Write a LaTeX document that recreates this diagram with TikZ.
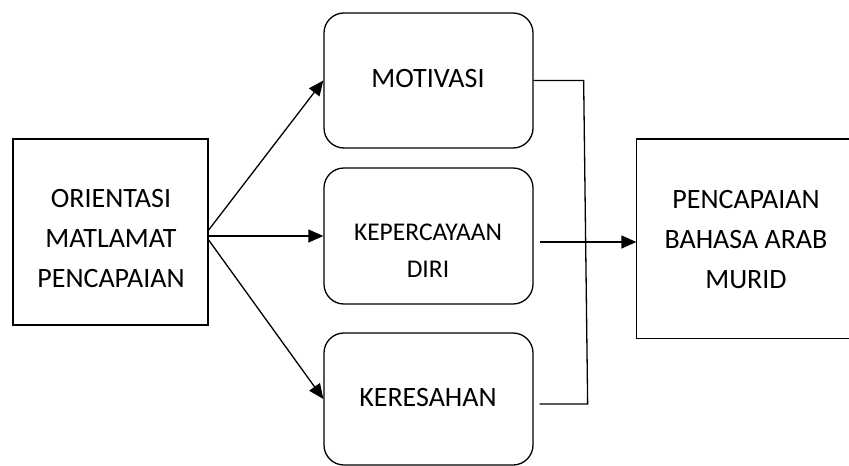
\documentclass[tikz,border=0pt]{standalone}
\usepackage{fontspec}
\setmainfont{Carlito}
\usetikzlibrary{arrows.meta}
\begin{document}
\begin{tikzpicture}[x=1pt,y=-1pt,line width=1.3pt,
  kotak/.style={draw,rectangle,inner sep=0pt},
  bulat/.style={draw,rectangle,rounded corners=20pt,minimum width=209pt,inner sep=0pt},
  teks/.style={align=center,inner sep=0pt,font=\fontsize{28}{40}\selectfont},
  panah/.style={-{Triangle[length=15pt,width=13pt]}}]
\useasboundingbox (0,0) rectangle (849,466);
% Boxes
\node[kotak,minimum width=195pt,minimum height=186pt] (orientasi) at (110.5,232) {};
\node[bulat,minimum height=135pt] (motivasi) at (428.5,80.5) {};
\node[bulat,minimum height=136pt] (kepercayaan) at (428.5,236) {};
\node[bulat,minimum height=132pt] (keresahan) at (428.5,399) {};
\node[rectangle,inner sep=0pt,minimum width=224pt,minimum height=198pt] (pencapaian) at (749,238.5) {};
\path[draw] (pencapaian.north east) -- (pencapaian.north west) -- (pencapaian.south west)
  -- (pencapaian.south east);
% Texts
\node[teks] (orientasi-t) at (111,238.5) {ORIENTASI\\MATLAMAT\\PENCAPAIAN};
\node[teks] (motivasi-t) at (428,79) {MOTIVASI};
\node[teks,font=\fontsize{25.5}{37}\selectfont] (kepercayaan-t) at (428,250.5) {KEPERCAYAAN\\DIRI};
\node[teks] (keresahan-t) at (428,397.5) {KERESAHAN};
\node[teks] (pencapaian-t) at (746,239.5) {PENCAPAIAN\\BAHASA ARAB\\MURID};
% Arrows
\path[draw,panah] ([yshift=2pt]orientasi.east) -- (motivasi.west);
\path[draw,panah] (orientasi.east |- kepercayaan.west) -- (kepercayaan.west);
\path[draw,panah] ([yshift=-8pt]orientasi.east) -- (keresahan.west);
\path[draw] (motivasi.east) -- ++(50,0) -- ([xshift=54pt,yshift=-5pt]keresahan.east)
  -- ([xshift=6pt,yshift=-5pt]keresahan.east);
\path[draw,panah] ([xshift=6pt,yshift=-6pt]kepercayaan.east) -- ([yshift=-3.5pt]pencapaian.west);
\end{tikzpicture}
\end{document}
